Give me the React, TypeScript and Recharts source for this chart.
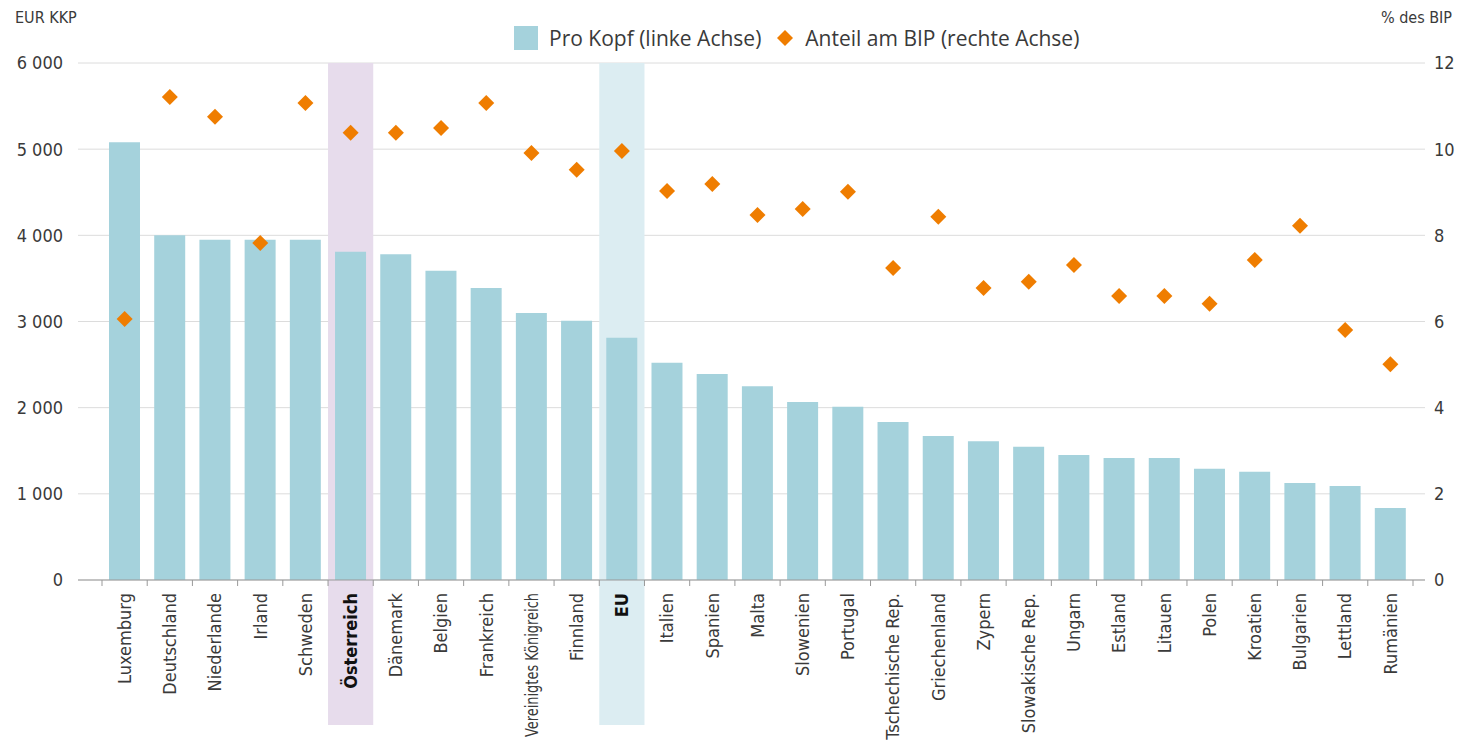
import {
  ComposedChart, Bar, Scatter, XAxis, YAxis, CartesianGrid,
  ReferenceArea, Legend,
} from 'recharts';

const countries = [
  'Luxemburg', 'Deutschland', 'Niederlande', 'Irland', 'Schweden', 'Österreich',
  'Dänemark', 'Belgien', 'Frankreich', 'Vereinigtes Königreich', 'Finnland', 'EU',
  'Italien', 'Spanien', 'Malta', 'Slowenien', 'Portugal', 'Tschechische Rep.',
  'Griechenland', 'Zypern', 'Slowakische Rep.', 'Ungarn', 'Estland', 'Litauen',
  'Polen', 'Kroatien', 'Bulgarien', 'Lettland', 'Rumänien',
];

// Pro Kopf, EUR KKP (left axis)
const perCapita = [
  5080, 4000, 3950, 3950, 3950, 3810, 3780, 3590, 3390, 3100, 3010, 2810,
  2520, 2390, 2250, 2065, 2010, 1835, 1670, 1610, 1545, 1450, 1415, 1415,
  1290, 1255, 1125, 1090, 835,
];

// Anteil am BIP, % (right axis)
const shareGdp = [
  6.06, 11.21, 10.75, 7.82, 11.07, 10.38, 10.38, 10.49, 11.07, 9.91, 9.52, 9.96,
  9.03, 9.19, 8.47, 8.61, 9.01, 7.24, 8.43, 6.78, 6.92, 7.31, 6.59, 6.59,
  6.41, 7.43, 8.22, 5.8, 5.01,
];

const leftTicks = [0, 1000, 2000, 3000, 4000, 5000, 6000];
const rightTicks = [0, 2, 4, 6, 8, 10, 12];
const highlighted = ['Österreich', 'EU'];

const data = countries.map((c, i) => ({ name: c, proKopf: perCapita[i], bip: shareGdp[i] }));

const WIDTH = 1462;
const HEIGHT = 742;
const LEFT_W = 78;
const RIGHT_W = 37;
const PAD_L = 24;
const PAD_R = 12;
const BAND = (WIDTH - LEFT_W - RIGHT_W - PAD_L - PAD_R) / countries.length;

const BAR_COLOR = '#a5d2dc';
const DOT_COLOR = '#ef7d00';
const TEXT = '#3a3a3a';
const TICK_FONT = "'Liberation Sans Narrow', 'DejaVu Sans Condensed', 'Liberation Sans', sans-serif";
const LEGEND_FONT = "'Open Sans', 'Liberation Sans', sans-serif";

function formatThousands(v: number): string {
  return String(v).replace(/\B(?=(\d{3})+(?!\d))/g, ' ');
}

function CountryTick(props: any) {
  const { x, y, payload, index } = props;
  const bold = highlighted.includes(payload.value);
  const last = index === countries.length - 1;
  // the longest name is squeezed so it fits above the bottom edge
  const squeeze = payload.value.length > 18 ? { textLength: 144, lengthAdjust: 'spacingAndGlyphs' } : {};
  return (
    <g>
      <line x1={x - BAND / 2} x2={x - BAND / 2} y1={y - 8} y2={y - 2} stroke="#999" />
      {last && <line x1={x + BAND / 2} x2={x + BAND / 2} y1={y - 8} y2={y - 2} stroke="#999" />}
      <text
        x={x}
        y={y + 5}
        transform={`rotate(-90, ${x}, ${y + 5})`}
        textAnchor="end"
        dy="0.35em"
        fill={bold ? '#111' : TEXT}
        fontWeight={bold ? 700 : 400}
        fontSize={18}
        fontFamily={TICK_FONT}
        {...squeeze}
      >
        {payload.value}
      </text>
    </g>
  );
}

function Diamond(props: any) {
  const { cx, cy } = props;
  const r = 8;
  return (
    <polygon
      points={`${cx},${cy - r} ${cx + r},${cy} ${cx},${cy + r} ${cx - r},${cy}`}
      fill={DOT_COLOR}
    />
  );
}

function Band(props: any) {
  const { x, y, width, height, fill } = props;
  return <rect x={x} y={y} width={width} height={height + 145} fill={fill} />;
}

function LegendContent() {
  return (
    <div style={{ display: 'flex', alignItems: 'center', fontFamily: LEGEND_FONT, fontSize: 21, color: TEXT, whiteSpace: 'nowrap' }}>
      <span style={{ width: 24, height: 24, background: BAR_COLOR, display: 'inline-block', marginRight: 11 }} />
      <span>Pro Kopf (linke Achse)</span>
      <svg width={18} height={18} style={{ margin: '0 11px 0 15px' }}>
        <polygon points="9,1 17,9 9,17 1,9" fill={DOT_COLOR} />
      </svg>
      <span>Anteil am BIP (rechte Achse)</span>
    </div>
  );
}

export default function App() {
  return (
    <div style={{ position: 'absolute', left: 0, top: 0, width: WIDTH, height: HEIGHT, background: '#fff' }}>
      <ComposedChart
        width={WIDTH}
        height={HEIGHT}
        data={data}
        margin={{ top: 63, right: 0, bottom: 0, left: 0 }}
        barCategoryGap="15.5%"
      >
        <CartesianGrid vertical={false} stroke="#dcdcdc" yAxisId="left" />
        {highlighted.map((h, i) => (
          <ReferenceArea
            key={h}
            x1={h}
            x2={h}
            yAxisId="left"
            fill={i === 0 ? '#e7dcec' : '#dcedf2'}
            fillOpacity={1}
            ifOverflow="visible"
            shape={<Band />}
            zIndex={-10}
          />
        ))}
        <XAxis
          dataKey="name"
          interval={0}
          height={162}
          padding={{ left: PAD_L, right: PAD_R }}
          stroke="#999"
          tickLine={false}
          tick={<CountryTick />}
        />
        <YAxis
          yAxisId="left"
          width={LEFT_W}
          domain={[0, 6000]}
          ticks={leftTicks}
          axisLine={false}
          tickLine={false}
          tickSize={0}
          tickMargin={15}
          tickFormatter={formatThousands}
          tick={{ fill: TEXT, fontSize: 18, fontFamily: TICK_FONT }}
          label={{
            content: ({ viewBox }: any) => (
              <text x={viewBox.x + 15} y={viewBox.y - 40} fill={TEXT} fontSize={16} fontFamily={TICK_FONT}>EUR KKP</text>
            ),
          }}
        />
        <YAxis
          yAxisId="right"
          orientation="right"
          width={RIGHT_W}
          domain={[0, 12]}
          ticks={rightTicks}
          axisLine={false}
          tickLine={false}
          tickSize={0}
          tickMargin={9}
          tick={{ fill: TEXT, fontSize: 18, fontFamily: TICK_FONT }}
          label={{
            content: ({ viewBox }: any) => (
              <text x={viewBox.x + viewBox.width - 10} y={viewBox.y - 40} textAnchor="end" fill={TEXT} fontSize={16} fontFamily={TICK_FONT}>% des BIP</text>
            ),
          }}
        />
        <Legend
          verticalAlign="middle"
          align="center"
          layout="horizontal"
          content={<LegendContent />}
          wrapperStyle={{ top: 24, left: 514, width: 'auto' }}
        />
        <Bar yAxisId="left" dataKey="proKopf" fill={BAR_COLOR} isAnimationActive={false} />
        <Scatter yAxisId="right" dataKey="bip" shape={<Diamond />} isAnimationActive={false} />
      </ComposedChart>
    </div>
  );
}
